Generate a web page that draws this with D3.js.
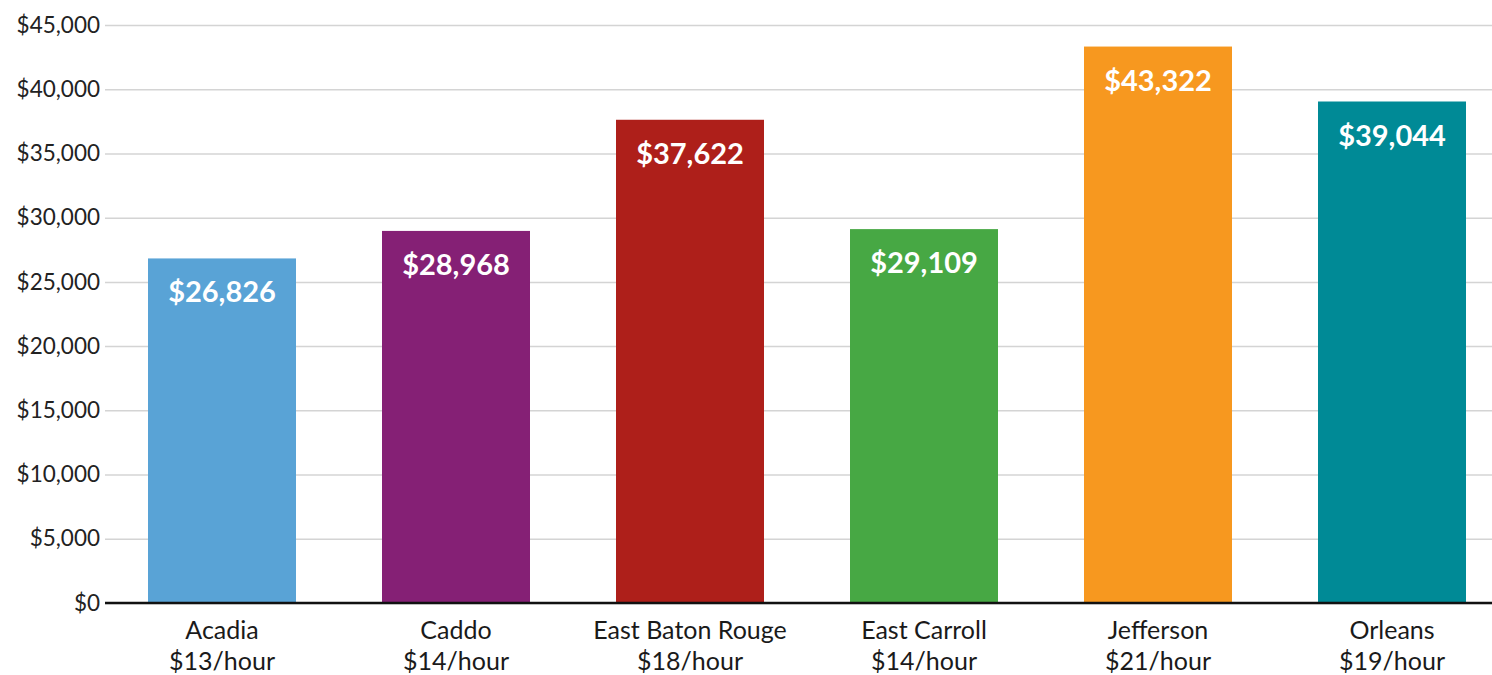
<!DOCTYPE html>
<html>
<head>
<meta charset="utf-8">
<script src="https://cdn.jsdelivr.net/npm/d3@7"></script>
<style>
  body { margin: 0; background: #fff; }
  svg { display: block; font-family: "Lato", "Open Sans", sans-serif; }
</style>
</head>
<body>
<svg width="1492" height="675"></svg>
<script>
// data
const counties = ["Acadia", "Caddo", "East Baton Rouge", "East Carroll", "Jefferson", "Orleans"];
const wages = ["$13/hour", "$14/hour", "$18/hour", "$14/hour", "$21/hour", "$19/hour"];
const incomes = [26826, 28968, 37622, 29109, 43322, 39044];
const colors = ["#59a3d6", "#852075", "#ae1f1a", "#47a844", "#f7981f", "#008a96"];
const yTicks = [0, 5000, 10000, 15000, 20000, 25000, 30000, 35000, 40000, 45000];

const svg = d3.select("svg");
const width = +svg.attr("width");

const plotLeft = 105;
const baseY = 603;
const topY = 25;

const x = d3.scaleBand()
  .domain(counties)
  .range([plotLeft, plotLeft + 234 * 6])
  .paddingInner(86 / 234)
  .paddingOuter(43 / 234);

const y = d3.scaleLinear()
  .domain([0, 45000])
  .range([baseY, topY]);

const money = d3.format("$,");

// y axis with grid lines
const yAxisG = svg.append("g")
  .attr("transform", `translate(${plotLeft},0)`)
  .call(d3.axisLeft(y)
    .tickValues(yTicks)
    .tickFormat(money)
    .tickSize(-(width - plotLeft))
    .tickPadding(5));
yAxisG.select(".domain").remove();
yAxisG.selectAll(".tick line")
  .attr("stroke", "#d4d4d4")
  .attr("stroke-width", 1.5);
yAxisG.selectAll(".tick text")
  .attr("font-size", 22.5)
  .attr("fill", "#222")
  .attr("font-family", "Lato, sans-serif");

// bars
svg.append("g")
  .selectAll("rect")
  .data(counties)
  .enter()
  .append("rect")
  .attr("x", (d) => x(d))
  .attr("y", (d, i) => y(incomes[i]))
  .attr("width", x.bandwidth())
  .attr("height", (d, i) => y(0) - y(incomes[i]))
  .attr("fill", (d, i) => colors[i]);

// value labels inside bars
svg.append("g")
  .selectAll("text")
  .data(counties)
  .enter()
  .append("text")
  .attr("x", (d) => x(d) + x.bandwidth() / 2)
  .attr("y", (d, i) => y(incomes[i]) + 44)
  .attr("text-anchor", "middle")
  .attr("fill", "#fff")
  .attr("font-size", 29)
  .attr("font-weight", "bold")
  .text((d, i) => money(incomes[i]));

// baseline
svg.append("line")
  .attr("x1", plotLeft)
  .attr("x2", width)
  .attr("y1", y(0))
  .attr("y2", y(0))
  .attr("stroke", "#111")
  .attr("stroke-width", 2.5);

// category labels
const xAxisG = svg.append("g")
  .attr("transform", `translate(0,${baseY})`)
  .call(d3.axisBottom(x).tickSize(0).tickFormat(""));
xAxisG.select(".domain").remove();
xAxisG.selectAll(".tick").each(function (d, i) {
  const t = d3.select(this).append("text")
    .attr("text-anchor", "middle")
    .attr("fill", "#1a1a1a")
    .attr("font-size", 25)
    .attr("font-family", "Lato, sans-serif");
  t.append("tspan").attr("x", 0).attr("y", 36).text(d);
  t.append("tspan").attr("x", 0).attr("y", 67).text(wages[i]);
});
</script>
</body>
</html>
